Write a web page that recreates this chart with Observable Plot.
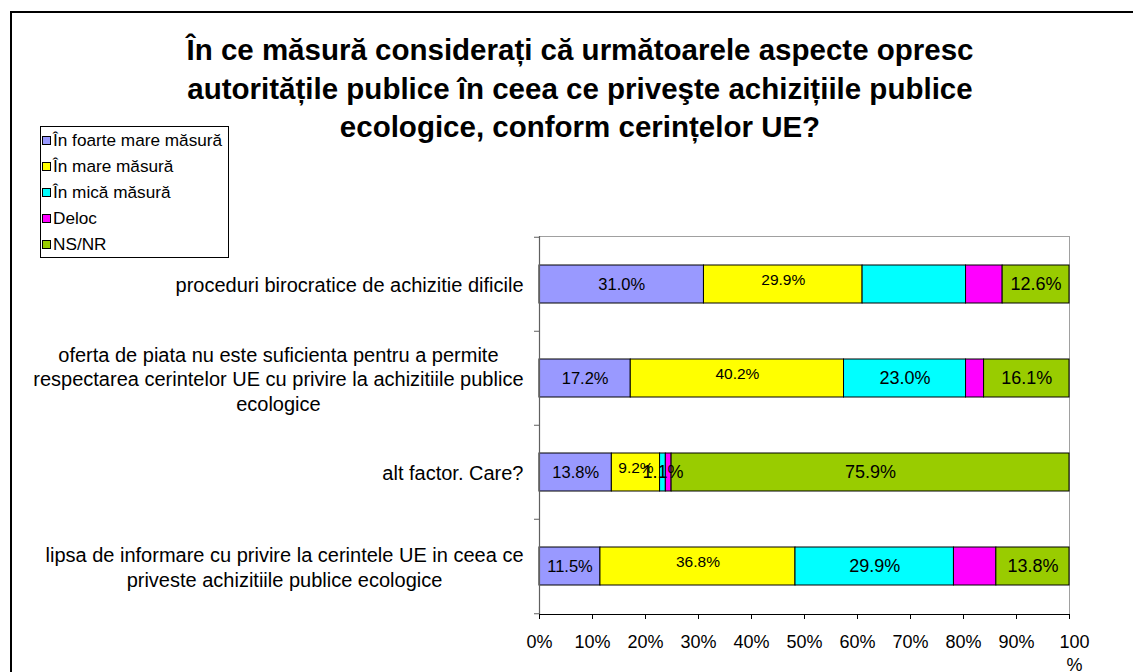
<!DOCTYPE html>
<html>
<head>
<meta charset="utf-8">
<script src="https://cdn.jsdelivr.net/npm/d3@7"></script>
<script src="https://cdn.jsdelivr.net/npm/@observablehq/plot@0.6"></script>
<style>
  body { margin: 0; background: #fff; font-family: "Liberation Sans", Arial, sans-serif; }
  #wrap { position: relative; width: 1133px; height: 672px; overflow: hidden; background: #fff; }
  #frame { position: absolute; left: 10px; top: 11px; width: 1300px; height: 900px; border-left: 2px solid #000; border-top: 2px solid #000; }
  #title { position: absolute; left: 0; top: 31px; width: 1160px; text-align: center; font-weight: bold; font-size: 29.5px; line-height: 38.5px; color: #000; }
  #legend { position: absolute; left: 40px; top: 126px; width: 187px; border: 1px solid #000; background: #fff; }
  .item { height: 26px; display: flex; align-items: center; font-size: 17.2px; color: #000; white-space: nowrap; }
  .sw { width: 7px; height: 7px; border: 1px solid #000; margin: 0 2px 0 1px; flex: none; }
  #chart { position: absolute; left: 0; top: 0; }
</style>
</head>
<body>
<div id="wrap">
  <div id="frame"></div>
  <div id="chart"></div>
  <div id="title"></div>
  <div id="legend"></div>
</div>
<script>
// ---- data ----
const titleLines = [
  "În ce măsură considerați că următoarele aspecte opresc",
  "autoritățile publice în ceea ce priveşte achizițiile publice",
  "ecologice, conform cerințelor UE?"
];
const categories = [
  "proceduri birocratice de achizitie dificile",
  "oferta de piata nu este suficienta pentru a permite\nrespectarea cerintelor UE cu privire la achizitiile publice\necologice",
  "alt factor. Care?",
  "lipsa de informare cu privire la cerintele UE in ceea ce\npriveste achizitiile publice ecologice"
];
const series = ["În foarte mare măsură", "În mare măsură", "În mică măsură", "Deloc", "NS/NR"];
const colors = ["#9999FF", "#FFFF00", "#00FFFF", "#FF00FF", "#99CC00"];
const foarteMare = [31.0, 17.2, 13.8, 11.5];
const mare = [29.9, 40.2, 9.2, 36.8];
const mica = [19.5, 23.0, 1.1, 29.9];
const deloc = [6.9, 3.4, 1.1, 8.0];
const nsnr = [12.6, 16.1, 75.9, 13.8];
const xTicks = [0, 0.1, 0.2, 0.3, 0.4, 0.5, 0.6, 0.7, 0.8, 0.9, 1];
const xTickLabels = ["0%", "10%", "20%", "30%", "40%", "50%", "60%", "70%", "80%", "90%", "100\n%"];
// labels not printed in the original
const hiddenLabels = [
  {cat: categories[0], series: "În mică măsură"},
  {cat: categories[0], series: "Deloc"},
  {cat: categories[1], series: "Deloc"},
  {cat: categories[2], series: "Deloc"},
  {cat: categories[3], series: "Deloc"}
];

const seriesValues = [foarteMare, mare, mica, deloc, nsnr];
const data = categories.flatMap((cat, i) =>
  series.map((s, j) => ({cat, series: s, value: seriesValues[j][i]}))
);

// ---- title & legend (HTML) ----
document.getElementById("title").innerHTML = titleLines.join("<br>");
const leg = document.getElementById("legend");
series.forEach((s, j) => {
  const it = document.createElement("div");
  it.className = "item";
  const sw = document.createElement("span");
  sw.className = "sw";
  sw.style.background = colors[j];
  it.appendChild(sw);
  it.appendChild(document.createTextNode(s));
  leg.appendChild(it);
});

// ---- layout ----
const W = 1133, H = 672;
const mLeft = 539, mRight = 64, mTop = 236, mBottom = 58;
const step = (H - mTop - mBottom) / categories.length;
const font = "'Liberation Sans', Arial, sans-serif";
const catFont = 20;

const labelStyle = {
  "În foarte mare măsură": {fontSize: 16.5, dy: 0},
  "În mare măsură": {fontSize: 15.5, dy: -4},
  "În mică măsură": {fontSize: 18, dy: 0},
  "Deloc": {fontSize: 18, dy: 0},
  "NS/NR": {fontSize: 18, dy: 0}
};
const isHidden = d => hiddenLabels.some(h => h.cat === d.cat && h.series === d.series);

// measure category labels
const ctx = document.createElement("canvas").getContext("2d");
ctx.font = catFont + "px 'Liberation Sans'";
const blockWidth = c => d3.max(c.split("\n"), l => ctx.measureText(l).width);

const lastTick = xTicks.length - 1;
const marks = [
  Plot.frame({stroke: "#a0a0a0"}),
  Plot.barX(data, Plot.stackX({
    x: "value", y: "cat", z: "series", fill: "series", offset: "normalize",
    stroke: "#000", strokeWidth: 1
  })),
  ...series.map(s => Plot.text(data, Plot.stackX({
    x: "value", y: "cat", z: "series", offset: "normalize",
    text: d => (d.series === s && !isHidden(d)) ? d.value.toFixed(1) + "%" : null,
    fontSize: labelStyle[s].fontSize, dy: labelStyle[s].dy, fill: "#000"
  }))),
  Plot.ruleX([0], {stroke: "#606060", strokeWidth: 1.2}),
  Plot.frame({anchor: "bottom", stroke: "#000"}),
  // y ticks at category boundaries
  Plot.ruleY(categories, {y: d => d, x1: 0, x2: 0, insetLeft: -5, dy: -step / 2, stroke: "#606060"}),
  Plot.ruleY(categories.slice(-1), {y: d => d, x1: 0, x2: 0, insetLeft: -5, dy: step / 2, stroke: "#606060"}),
  Plot.axisX({
    ticks: xTicks, tickFormat: (d, i) => i === lastTick ? "" : xTickLabels[i], tickSize: 5, tickPadding: 16,
    fontSize: 18, stroke: "#000", fill: "#000", label: null
  }),
  // wrapped "100 %" label, nudged right as in the original
  Plot.axisX({
    ticks: xTicks.slice(-1), tickFormat: () => xTickLabels[lastTick], tickSize: 0, tickPadding: 18,
    fontSize: 18, fill: "#000", lineHeight: 1.25, label: null, dx: 5
  }),
  ...categories.map(c => Plot.text([c], {
    x: () => 0, y: d => d, text: d => d,
    textAnchor: "middle", lineAnchor: "middle", lineHeight: 24.5 / catFont,
    fontSize: catFont, fill: "#000", dx: -(16 + blockWidth(c) / 2)
  }))
];

const chart = Plot.plot({
  width: W, height: H,
  marginLeft: mLeft, marginRight: mRight, marginTop: mTop, marginBottom: mBottom,
  style: {fontFamily: font, background: "transparent", color: "#000", overflow: "visible"},
  x: {domain: [0, 1], axis: null},
  y: {domain: categories, paddingInner: 0.6, paddingOuter: 0.3, axis: null},
  color: {domain: series, range: colors},
  marks
});
document.getElementById("chart").appendChild(chart);
</script>
</body>
</html>
